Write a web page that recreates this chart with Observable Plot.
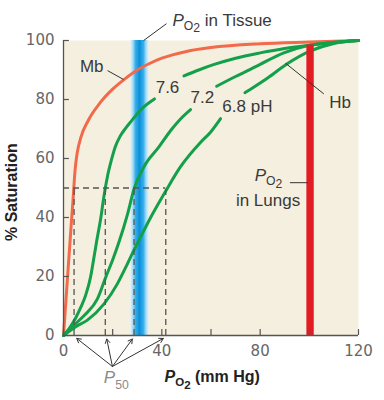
<!DOCTYPE html>
<html><head><meta charset="utf-8">
<script src="https://cdn.jsdelivr.net/npm/d3@7"></script>
<script src="https://cdn.jsdelivr.net/npm/@observablehq/plot@0.6"></script>
<style>body{margin:0;background:#fff}</style>
</head><body><div id="chart"></div>
<script>
// ---- data ----
const xTicks = [0, 20, 40, 60, 80, 100, 120];
const xTickLabels = [0, 40, 80, 120];
const yTicks = [0, 20, 40, 60, 80, 100];

// PO2 (mm Hg), % saturation
const mbCurve = [[0,0],[1,12],[2,24],[3,36],[4,47.5],[4.7,56],[5.5,61.5],[7,67],[10,72.8],[15,79],[20,83.5],[25,87],[30,90],[35,92.2],[40,94],[50,96.3],[60,97.6],[80,98.9],[100,99.5],[120,100]];
const hb76 = [[0,0],[2.5,2.6],[5,6],[7,9.5],[9,13.6],[11,19.8],[12.4,26.5],[13.5,32],[15.2,40],[16.5,47.5],[17.9,54],[19.5,59.5],[21,63.8],[23,67.5],[25.3,70.3],[27.5,72.6],[32,77],[37,80.2],[43,NaN],[49,88],[55,90],[61,91.8],[70,94],[80,95.8],[90,97.3],[100,98.4],[110,99.3],[120,100]];
const hb72 = [[0,0],[4,3.3],[8.4,6.8],[13.8,12.4],[17.2,19.8],[19.9,25.4],[22.5,31.5],[26,41],[28.7,49.7],[32.8,57.3],[38.9,64],[43.6,69.5],[47.7,73.5],[51.7,76.6],[57,NaN],[62.3,84.5],[70,87.8],[76,90.2],[80,91.9],[89.6,95.8],[99,98.2],[110,99.4],[120,100]];
const hb68 = [[0,0],[5,3],[9.7,5.2],[16.5,10.7],[21.9,17.5],[26,24.3],[28.7,29],[30.7,32.3],[35.5,40.1],[41.6,49],[47.7,57.3],[55.8,65.5],[59.9,69],[63.9,73.5],[68,NaN],[73.8,82.3],[76.1,83.5],[82.9,87.2],[91,92.1],[100,96.3],[110,99],[120,100]];

const p50Values = [4.3, 17, 28.7, 41.6];
const halfSat = 50;
const tissueBand = [{x1: 27.4, x2: 34.8, y1: 0, y2: 100}];
const lungsBar = [{x1: 99, x2: 102, y1: 0, y2: 98.5}];

const annotations = [
  {x: 44.3, y: 106.9, text: "P_O2 in Tissue", anchor: "start"},
  {x: 11.5, y: 91.2, text: "Mb", anchor: "middle"},
  {x: 42.3, y: 83.9, text: "7.6", anchor: "middle"},
  {x: 56.5, y: 80.8, text: "7.2", anchor: "middle"},
  {x: 74.8, y: 77.7, text: "6.8 pH", anchor: "middle"},
  {x: 112.5, y: 79.1, text: "Hb", anchor: "middle"},
  {x: 83.4, y: 54.2, text: "P_O2", anchor: "middle"},
  {x: 83.2, y: 45.9, text: "in Lungs", anchor: "middle"}
];
const leaders = [
  {x1: 41.9, y1: 105.7, x2: 32.6, y2: 100},
  {x1: 17.9, y1: 89.8, x2: 24.4, y2: 86.8},
  {x1: 105.9, y1: 81.9, x2: 90.3, y2: 92.3},
  {x1: 92.1, y1: 51.8, x2: 99.3, y2: 51.8}
];
const p50Label = [{x: 16.4, y: -14.4, text: "P_50"}];
const p50Arrows = [
  {x1: 19.9, y1: -10.5, x2: 5.4, y2: -1.0},
  {x1: 19.9, y1: -10.5, x2: 17.6, y2: -1.2},
  {x1: 19.9, y1: -10.5, x2: 28.0, y2: -1.2},
  {x1: 19.9, y1: -10.5, x2: 40.6, y2: -1.0}
];
const xTitle = [{x: 60.5, y: -14.1, text: "P_O2 (mm Hg)"}];
const yTitle = [{x: -21.2, y: 48.6, text: "% Saturation"}];

// ---- chart ----
const P = d => d[0], S = d => d[1];
const annoFont = "Liberation Sans, Arial, sans-serif";
const annoStyle = {x: "x", y: "y", text: "text", fill: "#3a3a3a", fontSize: 17, fontFamily: annoFont};
const chart = Plot.plot({
  width: 384, height: 400,
  marginLeft: 63, marginRight: 26, marginTop: 40, marginBottom: 65,
  style: {fontFamily: "DejaVu Sans, sans-serif", fontSize: "15px", background: "#fff"},
  x: {domain: [0, 120]},
  y: {domain: [0, 100]},
  marks: [
    Plot.frame({fill: "#f4efde", stroke: null}),
    Plot.rect(tissueBand, {x1: "x1", x2: "x2", y1: "y1", y2: "y2", fill: "url(#tissueGrad)"}),
    Plot.line(mbCurve, {x: P, y: S, curve: "monotone-x", stroke: "#f26a4b", strokeWidth: 3}),
    Plot.line(hb76, {x: P, y: S, curve: "monotone-x", stroke: "#14a04a", strokeWidth: 3}),
    Plot.line(hb72, {x: P, y: S, curve: "monotone-x", stroke: "#14a04a", strokeWidth: 3}),
    Plot.line(hb68, {x: P, y: S, curve: "monotone-x", stroke: "#14a04a", strokeWidth: 3}),
    Plot.rect(lungsBar, {x1: "x1", x2: "x2", y1: "y1", y2: "y2", fill: "#e31c24"}),
    Plot.ruleX(p50Values, {x: d => d, y1: 0, y2: halfSat, stroke: "#555", strokeWidth: 1.3, strokeDasharray: "6,4"}),
    Plot.ruleY([halfSat], {x1: 0, x2: d3.max(p50Values), y: d => d, stroke: "#555", strokeWidth: 1.3, strokeDasharray: "6,4"}),
    Plot.ruleX([0], {y1: 0, y2: 100, stroke: "#555", strokeWidth: 1.3}),
    Plot.ruleY([0], {x1: 0, x2: 120, stroke: "#555", strokeWidth: 1.3}),
    Plot.ruleX(xTicks, {x: d => d, y1: 0, y2: 2, stroke: "#555", strokeWidth: 1.2}),
    Plot.ruleY(yTicks, {y: d => d, x1: 0, x2: 2.4, stroke: "#555", strokeWidth: 1.2}),
    Plot.axisX({ticks: xTickLabels, tickSize: 0, tickPadding: 10, label: null, color: "#666", fontSize: 15}),
    Plot.axisY({ticks: yTicks, tickSize: 0, tickPadding: 9, label: null, color: "#666", fontSize: 15}),
    Plot.link(leaders, {x1: "x1", y1: "y1", x2: "x2", y2: "y2", stroke: "#333", strokeWidth: 1}),
    Plot.arrow(p50Arrows, {x1: "x1", y1: "y1", x2: "x2", y2: "y2", stroke: "#333", strokeWidth: 1, headLength: 7}),
    Plot.text(annotations.filter(d => d.anchor === "start"), {...annoStyle, textAnchor: "start"}),
    Plot.text(annotations.filter(d => d.anchor === "middle"), {...annoStyle, textAnchor: "middle"}),
    Plot.text(p50Label, {x: "x", y: "y", text: "text", textAnchor: "start", fill: "#8a8a8a", fontSize: 17, fontFamily: annoFont}),
    Plot.text(xTitle, {x: "x", y: "y", text: "text", textAnchor: "middle", fill: "#222", fontSize: 16, fontWeight: "bold", fontFamily: annoFont}),
    Plot.text(yTitle, {x: "x", y: "y", text: "text", textAnchor: "middle", rotate: -90, fill: "#222", fontSize: 16, fontWeight: "bold", fontFamily: annoFont})
  ]
});
document.getElementById("chart").appendChild(chart);

// gradient for the tissue band
const ns = "http://www.w3.org/2000/svg";
const defs = document.createElementNS(ns, "defs");
const grad = document.createElementNS(ns, "linearGradient");
grad.setAttribute("id", "tissueGrad");
grad.setAttribute("x1", "0"); grad.setAttribute("x2", "1"); grad.setAttribute("y1", "0"); grad.setAttribute("y2", "0");
[[0,"#dff1fa"],[0.14,"#a6dcf5"],[0.28,"#35b0ec"],[0.5,"#0c8fd9"],[0.72,"#35b0ec"],[0.86,"#a6dcf5"],[1,"#dff1fa"]].forEach(([o,c]) => {
  const s = document.createElementNS(ns, "stop");
  s.setAttribute("offset", o); s.setAttribute("stop-color", c);
  grad.appendChild(s);
});
defs.appendChild(grad);
chart.insertBefore(defs, chart.firstChild);

// subscripts: P_O2 and P_50
chart.querySelectorAll("text").forEach(t => {
  const m = t.textContent.match(/^P_(O2|50)(.*)$/);
  if (!m) return;
  const fs = parseFloat(getComputedStyle(t).fontSize) || 16;
  t.textContent = "";
  const add = (txt, opts) => {
    const sp = document.createElementNS(ns, "tspan");
    sp.textContent = txt;
    for (const k in opts) sp.setAttribute(k, opts[k]);
    t.appendChild(sp);
  };
  add("P", {"font-style": "italic"});
  const sub = (fs * 0.72).toFixed(1);
  if (m[1] === "O2") {
    add("O", {"font-size": sub, dy: (fs * 0.25).toFixed(1)});
    add("2", {"font-size": sub, dy: (fs * 0.15).toFixed(1)});
    if (m[2]) add(m[2], {dy: (-fs * 0.4).toFixed(1)});
  } else {
    add("50", {"font-size": sub, dy: (fs * 0.3).toFixed(1)});
  }
});
</script>
</body></html>
